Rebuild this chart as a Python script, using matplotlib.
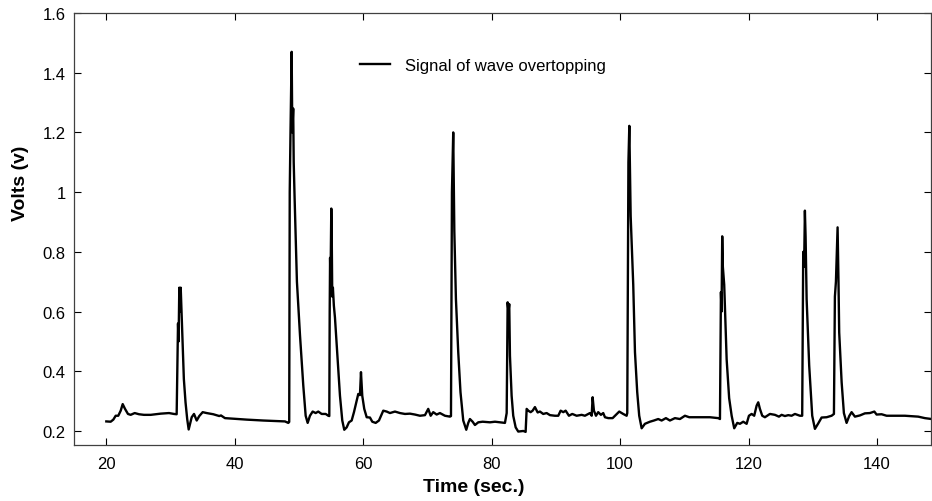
import matplotlib
matplotlib.use("Agg")
import matplotlib.pyplot as plt

# time (sec.) and volts
time_s = [
    20.03, 20.71, 21.12, 21.49, 21.89, 22.27, 22.58, 22.94, 23.40, 23.82, 24.45, 25.12,
    25.89, 26.94, 28.49, 29.79, 30.56, 30.98,
    31.08, 31.19, 31.28, 31.39, 31.50, 31.61, 31.86, 32.10, 32.36, 32.62, 32.85,
    33.32, 33.68, 34.10, 34.50, 35.03, 35.65, 36.68, 37.61, 37.88, 38.50, 39.79,
    41.88, 44.46, 46.55, 47.84, 48.35, 48.50,
    48.58, 48.70, 48.88, 48.98, 49.12, 49.20, 49.34, 49.70, 50.18, 50.69, 51.06, 51.37,
    51.73, 52.15, 52.62, 53.02, 53.55, 54.18, 54.58, 54.74,
    54.80, 54.86, 54.93, 55.05, 55.12, 55.20, 55.30, 55.45, 55.62, 56.04, 56.40, 56.76,
    57.07, 57.44, 57.80, 58.22, 58.58, 59.00, 59.25, 59.51, 59.67, 59.87, 60.18, 60.56,
    61.07, 61.43, 61.96, 62.47, 63.14, 63.67, 64.18, 64.96, 65.74, 66.52, 67.30, 68.07,
    68.85, 69.63, 70.14, 70.52, 70.92, 71.45, 71.96, 72.74, 73.52, 73.68,
    73.83, 74.03, 74.20, 74.45, 74.81, 75.16, 75.59, 76.06, 76.37, 76.63, 77.05, 77.41,
    77.93, 78.61, 79.75, 80.53, 81.30, 82.08, 82.35,
    82.50, 82.63, 82.75, 82.86, 83.12, 83.37, 83.75, 84.15, 84.93, 85.30, 85.46, 85.71,
    86.08, 86.39, 86.75, 87.17, 87.53, 88.04, 88.57, 89.09, 89.86, 90.38, 90.75, 91.16,
    91.53, 92.04, 92.56, 93.24, 94.02, 94.53, 95.31, 95.58, 95.73, 95.93, 96.25, 96.60,
    97.02, 97.38, 97.65, 98.16, 98.84, 99.36, 99.87, 100.49, 101.02, 101.12,
    101.30, 101.44, 101.65, 102.05, 102.32, 102.67, 102.98, 103.36, 103.87, 104.65,
    105.27, 105.94, 106.47, 107.14, 107.76, 108.54, 109.32, 110.10, 110.77, 111.92,
    113.99, 115.28, 115.55, 115.70,
    115.80, 115.90, 116.00, 116.21, 116.59, 116.98, 117.37, 117.77, 118.24, 118.66,
    119.17, 119.70, 120.06, 120.48, 120.88, 121.26, 121.51, 121.77, 122.13, 122.55,
    123.33, 124.11, 124.73, 125.15, 125.66, 126.18, 126.70, 127.22, 128.00, 128.35,
    128.51, 128.65, 128.77, 128.88, 129.04, 129.44, 129.91, 130.33, 130.84, 131.37,
    132.15, 132.93, 133.29, 133.44, 133.60, 133.86, 134.00, 134.11, 134.49, 134.84,
    135.26, 135.67, 136.04, 136.56, 137.33, 138.11, 138.89, 139.58, 139.93, 140.71,
    141.49, 142.78, 144.34, 146.41, 147.45, 148.50,
]
volts = [
    0.232, 0.231, 0.238, 0.251, 0.251, 0.268, 0.290, 0.274, 0.257, 0.254, 0.260, 0.256,
    0.254, 0.254, 0.258, 0.260, 0.257, 0.256,
    0.400, 0.560, 0.500, 0.680, 0.600, 0.680, 0.520, 0.374, 0.296, 0.240, 0.205,
    0.246, 0.257, 0.235, 0.250, 0.263, 0.260, 0.256, 0.250, 0.252, 0.243, 0.241,
    0.238, 0.235, 0.233, 0.232, 0.227, 0.230,
    1.000, 1.200, 1.470, 1.200, 1.280, 1.100, 0.980, 0.700, 0.520, 0.352, 0.251, 0.227,
    0.251, 0.265, 0.260, 0.265, 0.257, 0.257, 0.251, 0.250,
    0.600, 0.780, 0.700, 0.945, 0.850, 0.650, 0.680, 0.620, 0.580, 0.441, 0.318, 0.235,
    0.204, 0.212, 0.229, 0.235, 0.263, 0.302, 0.324, 0.320, 0.397, 0.318, 0.274, 0.246,
    0.245, 0.231, 0.227, 0.235, 0.268, 0.265, 0.260, 0.265, 0.260, 0.257, 0.258, 0.255,
    0.251, 0.253, 0.274, 0.251, 0.263, 0.255, 0.260, 0.251, 0.248, 0.250,
    1.000, 1.200, 0.870, 0.642, 0.464, 0.330, 0.235, 0.204, 0.227, 0.240, 0.231, 0.220,
    0.229, 0.231, 0.229, 0.231, 0.229, 0.227, 0.260,
    0.631, 0.600, 0.625, 0.452, 0.318, 0.251, 0.212, 0.198, 0.200, 0.197, 0.274, 0.268,
    0.263, 0.268, 0.280, 0.262, 0.265, 0.257, 0.260, 0.253, 0.251, 0.251, 0.268, 0.263,
    0.268, 0.251, 0.257, 0.251, 0.254, 0.251, 0.260, 0.251, 0.313, 0.268, 0.251, 0.263,
    0.254, 0.260, 0.246, 0.243, 0.243, 0.254, 0.265, 0.257, 0.251, 0.260,
    1.100, 1.222, 0.920, 0.690, 0.464, 0.330, 0.251, 0.209, 0.224, 0.231,
    0.235, 0.240, 0.235, 0.243, 0.235, 0.243, 0.240, 0.251, 0.246, 0.246,
    0.246, 0.243, 0.240, 0.665,
    0.600, 0.852, 0.750, 0.690, 0.440, 0.310, 0.251, 0.209, 0.227, 0.224,
    0.231, 0.224, 0.251, 0.257, 0.251, 0.285, 0.296, 0.274, 0.251, 0.246,
    0.257, 0.254, 0.248, 0.254, 0.250, 0.253, 0.251, 0.257, 0.251, 0.251,
    0.800, 0.750, 0.938, 0.850, 0.642, 0.419, 0.251, 0.207, 0.225, 0.245,
    0.246, 0.251, 0.257, 0.650, 0.700, 0.882, 0.700, 0.530, 0.363, 0.260,
    0.227, 0.250, 0.263, 0.248, 0.252, 0.259, 0.260, 0.265, 0.255, 0.256,
    0.251, 0.251, 0.251, 0.248, 0.243, 0.240,
]

x_ticks = [20, 40, 60, 80, 100, 120, 140]
y_ticks = [0.2, 0.4, 0.6, 0.8, 1.0, 1.2, 1.4, 1.6]
y_tick_labels = ["0.2", "0.4", "0.6", "0.8", "1", "1.2", "1.4", "1.6"]

plt.rcParams['font.family'] = ['Liberation Sans', 'DejaVu Sans']

fig = plt.figure(figsize=(9.32, 5.02), dpi=100)
ax = fig.add_axes([74 / 932, 1 - 446 / 502, (931 - 74) / 932, (446 - 14) / 502])

ax.plot(time_s, volts, color='black', linewidth=1.7, label='Signal of wave overtopping')

ax.set_xlim(15, 148.4)
ax.set_ylim(0.153, 1.6)
ax.set_xticks(x_ticks)
ax.set_yticks(y_ticks)
ax.set_yticklabels(y_tick_labels)
ax.tick_params(direction='in', top=True, right=True, length=5, width=0.8,
               labelsize=12, colors='black')
ax.tick_params(axis='x', pad=8)
ax.tick_params(axis='y', pad=6)
for s in ax.spines.values():
    s.set_linewidth(0.9)
    s.set_color('#404040')

ax.set_xlabel('Time (sec.)', fontsize=14, fontweight='bold')
ax.set_ylabel('Volts (v)', fontsize=14, fontweight='bold')
ax.xaxis.set_label_coords(0.467, -0.077)
ax.yaxis.set_label_coords(-0.053, 0.609)

ax.legend(loc='upper left', bbox_to_anchor=(0.316, 0.93), frameon=False,
          fontsize=12, handlelength=1.8, handletextpad=0.9)

fig.savefig('out.png', dpi=100)
